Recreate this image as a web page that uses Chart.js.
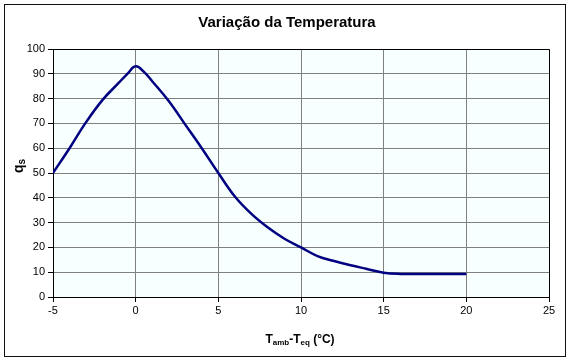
<!DOCTYPE html>
<html>
<head>
<meta charset="utf-8">
<script src="https://cdn.jsdelivr.net/npm/chart.js@4"></script>
<style>
  html, body { margin: 0; padding: 0; background: #fff; }
  #wrap { width: 571px; height: 362px; }
</style>
</head>
<body>
<div id="wrap"><canvas id="chart" width="571" height="362"></canvas></div>
<script>
// temperature difference (°C) and q_s
const deltaT = [-5, -4, -3, -2, -1, -0.5, 0, 0.5, 1, 2, 3, 4, 5, 6, 7, 8, 9, 10, 11, 12, 13, 14, 15, 16, 17, 18, 19, 20];
const qs = [50, 60, 70.5, 79.5, 86.5, 90, 93, 90.8, 87, 79, 69.5, 60, 50, 40.5, 33.5, 28, 23.5, 20, 16.5, 14.5, 12.8, 11.3, 9.8, 9.3, 9.3, 9.3, 9.3, 9.3];

const chartTitle = 'Variação da Temperatura';
const FONT = '"Liberation Sans", Arial, sans-serif';

// draw text pieces, some as subscripts
function drawParts(ctx, parts, x, y, big, small) {
  let w = 0;
  parts.forEach(p => {
    ctx.font = 'bold ' + (p.sub ? small : big) + 'px ' + FONT;
    w += ctx.measureText(p.t).width;
  });
  let cx = x - w / 2;
  parts.forEach(p => {
    ctx.font = 'bold ' + (p.sub ? small : big) + 'px ' + FONT;
    ctx.fillText(p.t, cx, p.sub ? y + 3 : y);
    cx += ctx.measureText(p.t).width;
  });
}

const decorations = {
  id: 'decorations',
  beforeDraw(chart) {
    const ctx = chart.ctx;
    const a = chart.chartArea;
    ctx.save();
    ctx.fillStyle = '#f7ffff';
    ctx.fillRect(a.left, a.top, a.right - a.left, a.bottom - a.top);
    ctx.restore();
  },
  afterDraw(chart) {
    const ctx = chart.ctx;
    const a = chart.chartArea;
    ctx.save();
    // plot frame top / right
    ctx.strokeStyle = '#000';
    ctx.lineWidth = 1;
    ctx.beginPath();
    ctx.moveTo(a.left, a.top + 0.5);
    ctx.lineTo(a.right + 0.5, a.top + 0.5);
    ctx.lineTo(a.right + 0.5, a.bottom);
    ctx.stroke();
    // outer frame
    ctx.strokeStyle = '#111';
    ctx.strokeRect(4.5, 4.5, 561, 352);
    // title
    ctx.fillStyle = '#000';
    ctx.textAlign = 'center';
    ctx.textBaseline = 'middle';
    ctx.font = 'bold 15px ' + FONT;
    ctx.fillText(chartTitle, 287, 23);
    // x axis title
    ctx.textAlign = 'left';
    drawParts(ctx, [{t: 'T'}, {t: 'amb', sub: true}, {t: '-T'}, {t: 'eq', sub: true}, {t: ' (°C)'}], 300, 340, 12, 8);
    // y axis title, rotated
    ctx.translate(20, 166);
    ctx.rotate(-Math.PI / 2);
    drawParts(ctx, [{t: 'q'}, {t: 's', sub: true}], 0, -1, 14, 10);
    ctx.restore();
  }
};

new Chart(document.getElementById('chart'), {
  type: 'line',
  data: {
    datasets: [{
      data: deltaT.map((x, i) => ({x: x, y: qs[i]})),
      borderColor: '#000080',
      borderWidth: 2.5,
      pointRadius: 0,
      tension: 0.4,
      fill: false
    }]
  },
  options: {
    responsive: false,
    animation: false,
    events: [],
    layout: { padding: { top: 49, right: 22, left: 0, bottom: 0 } },
    plugins: { legend: { display: false }, title: { display: false }, tooltip: { enabled: false } },
    scales: {
      x: {
        type: 'linear',
        min: -5,
        max: 25,
        ticks: { stepSize: 5, color: '#000', font: { family: FONT, size: 11 }, padding: 2 },
        grid: { color: '#808080', tickColor: '#000', tickLength: 5, lineWidth: 1 },
        border: { color: '#000', width: 1 },
        afterFit(scale) { scale.height = 65; }
      },
      y: {
        min: 0,
        max: 100,
        ticks: { stepSize: 10, color: '#000', font: { family: FONT, size: 11 }, padding: 3 },
        grid: { color: '#808080', tickColor: '#000', tickLength: 5, lineWidth: 1 },
        border: { color: '#000', width: 1 },
        afterFit(scale) { scale.width = 53; }
      }
    }
  },
  plugins: [decorations]
});
</script>
</body>
</html>
